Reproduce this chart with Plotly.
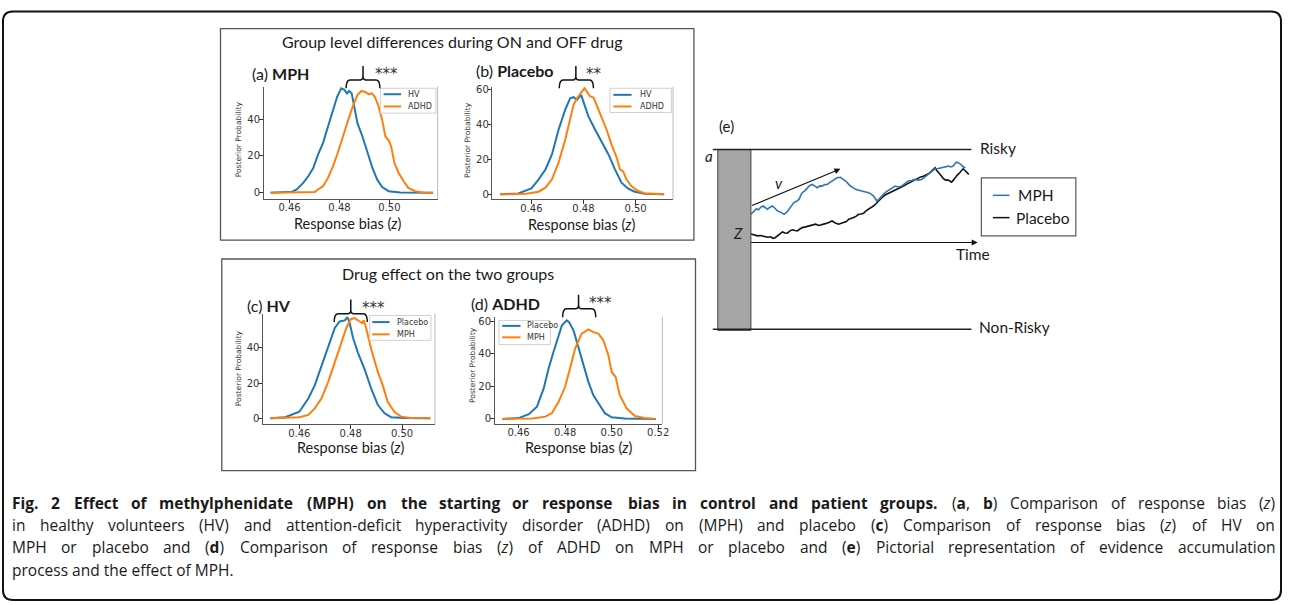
import plotly.graph_objects as go

# ---- data ---------------------------------------------------------------
# (a) MPH: HV vs ADHD posterior of response bias z
panel_a_hv_z = [0.4524, 0.4580, 0.4610, 0.4629, 0.4655, 0.4675, 0.4695, 0.4714, 0.4734, 0.4754,
                0.4774, 0.4791, 0.4807, 0.4820, 0.4830, 0.4839, 0.4849, 0.4859, 0.4872, 0.4892,
                0.4912, 0.4932, 0.4951, 0.4971, 0.4997, 0.5043, 0.5175]
panel_a_hv_p = [0.0, 0.2, 0.6, 1.8, 5.4, 9.0, 13.5, 20.7, 27.0, 36.0,
                45.0, 52.3, 56.8, 55.9, 54.0, 55.3, 54.0, 47.7, 37.8, 30.6,
                21.6, 13.5, 7.2, 3.1, 0.9, 0.2, 0.0]
panel_a_adhd_z = [0.4524, 0.4650, 0.4701, 0.4714, 0.4734, 0.4754, 0.4774, 0.4793, 0.4813, 0.4833,
                  0.4853, 0.4872, 0.4888, 0.4905, 0.4918, 0.4929, 0.4941, 0.4955, 0.4971, 0.4984,
                  0.4997, 0.5007, 0.5020, 0.5037, 0.5057, 0.5076, 0.5103, 0.5136, 0.5175]
panel_a_adhd_p = [0.0, 0.1, 0.5, 1.8, 3.6, 8.1, 14.4, 21.6, 30.6, 38.7,
                  46.8, 53.2, 55.3, 54.6, 53.5, 54.0, 52.3, 47.7, 39.6, 30.6,
                  28.5, 25.2, 16.2, 10.8, 6.3, 2.7, 0.9, 0.2, 0.0]

# (b) Placebo: HV vs ADHD
panel_b_hv_z = [0.4480, 0.4550, 0.4600, 0.4628, 0.4654, 0.4679, 0.4704, 0.4730, 0.4749, 0.4762,
                0.4775, 0.4791, 0.4804, 0.4819, 0.4845, 0.4870, 0.4896, 0.4921, 0.4946, 0.4972,
                0.4997, 0.5035, 0.5110]
panel_b_hv_p = [0.0, 0.5, 3.4, 8.6, 14.3, 22.9, 37.0, 48.6, 55.2, 55.8,
                54.3, 57.1, 51.4, 44.8, 37.1, 30.5, 22.9, 14.3, 6.7, 3.2,
                1.5, 0.4, 0.0]
panel_b_adhd_z = [0.4480, 0.4580, 0.4628, 0.4654, 0.4679, 0.4704, 0.4730, 0.4749, 0.4762, 0.4775,
                  0.4791, 0.4804, 0.4813, 0.4826, 0.4839, 0.4851, 0.4870, 0.4889, 0.4908, 0.4928,
                  0.4940, 0.4953, 0.4965, 0.4984, 0.5010, 0.5035, 0.5110]
panel_b_adhd_p = [0.0, 0.3, 1.5, 3.8, 8.6, 18.1, 31.4, 43.8, 51.4, 55.2,
                  58.1, 61.0, 59.0, 56.2, 55.6, 51.4, 44.8, 37.1, 28.6, 21.0,
                  14.3, 13.0, 8.6, 4.8, 1.9, 0.6, 0.0]

# (c) HV: Placebo vs MPH
panel_c_placebo_z = [0.4487, 0.4545, 0.4600, 0.4635, 0.4660, 0.4686, 0.4712, 0.4738, 0.4757, 0.4777,
                     0.4787, 0.4796, 0.4809, 0.4828, 0.4854, 0.4880, 0.4906, 0.4932, 0.4957, 0.5010,
                     0.5110]
panel_c_placebo_p = [0.0, 0.6, 3.7, 11.2, 18.7, 29.9, 41.1, 51.4, 55.1, 55.7,
                     57.6, 54.2, 45.8, 37.4, 28.0, 16.8, 7.5, 2.8, 0.6, 0.1,
                     0.0]
panel_c_mph_z = [0.4487, 0.4545, 0.4600, 0.4635, 0.4660, 0.4686, 0.4712, 0.4738, 0.4764, 0.4783,
                 0.4800, 0.4815, 0.4835, 0.4844, 0.4851, 0.4860, 0.4880, 0.4906, 0.4925, 0.4944,
                 0.4970, 0.4996, 0.5034, 0.5110]
panel_c_mph_p = [0.0, 0.2, 0.6, 1.9, 5.6, 11.2, 20.6, 31.8, 43.0, 51.4,
                 56.4, 57.0, 55.1, 54.2, 55.7, 51.4, 39.3, 26.2, 18.7, 9.3,
                 3.7, 0.9, 0.2, 0.0]

# (d) ADHD: Placebo vs MPH
panel_d_placebo_z = [0.4529, 0.4600, 0.4644, 0.4679, 0.4708, 0.4729, 0.4750, 0.4769, 0.4786, 0.4807,
                     0.4817, 0.4836, 0.4857, 0.4879, 0.4900, 0.4921, 0.4943, 0.4971, 0.5000, 0.5056,
                     0.5190]
panel_d_placebo_p = [0.0, 0.5, 2.9, 7.5, 18.7, 30.9, 41.0, 49.2, 57.3, 60.4,
                     59.3, 54.3, 44.1, 32.9, 22.7, 14.6, 9.6, 3.5, 1.0, 0.2,
                     0.0]
panel_d_mph_z = [0.4529, 0.4660, 0.4715, 0.4743, 0.4772, 0.4800, 0.4821, 0.4843, 0.4871, 0.4900,
                 0.4921, 0.4943, 0.4964, 0.4986, 0.5000, 0.5017, 0.5035, 0.5064, 0.5100, 0.5142,
                 0.5188]
panel_d_mph_p = [0.0, 0.2, 1.4, 3.5, 10.5, 19.7, 30.9, 43.1, 52.3, 54.9,
                 53.2, 52.3, 48.2, 39.0, 28.8, 25.8, 14.6, 6.5, 1.8, 0.6,
                 0.0]

# (e) evidence accumulation sketch: time (0..1) and evidence (0 = Non-Risky, 1 = Risky)
e_time_mph = [0.000, 0.015, 0.025, 0.035, 0.045, 0.055, 0.065, 0.075, 0.085, 0.098,
              0.110, 0.120, 0.135, 0.150, 0.162, 0.173, 0.185, 0.195, 0.207, 0.218,
              0.226, 0.233, 0.245, 0.256, 0.267, 0.278, 0.290, 0.301, 0.312, 0.323,
              0.335, 0.346, 0.357, 0.368, 0.380, 0.391, 0.406, 0.418, 0.429, 0.440,
              0.451, 0.462, 0.474, 0.489, 0.504, 0.519, 0.534, 0.545, 0.556, 0.564,
              0.571, 0.579, 0.586, 0.598, 0.609, 0.620, 0.632, 0.643, 0.654, 0.669,
              0.684, 0.699, 0.714, 0.729, 0.744, 0.759, 0.774, 0.790, 0.805, 0.820,
              0.835, 0.850, 0.865, 0.880, 0.895, 0.906, 0.917, 0.925, 0.932, 0.940,
              0.947, 0.955, 0.962, 0.968, 0.973]
e_evidence_mph = [0.640, 0.662, 0.671, 0.665, 0.680, 0.686, 0.675, 0.668, 0.678, 0.686,
                  0.672, 0.659, 0.652, 0.640, 0.650, 0.668, 0.690, 0.705, 0.712, 0.723,
                  0.745, 0.760, 0.772, 0.788, 0.800, 0.806, 0.795, 0.788, 0.798, 0.797,
                  0.805, 0.806, 0.816, 0.825, 0.832, 0.843, 0.846, 0.836, 0.825, 0.812,
                  0.797, 0.790, 0.779, 0.774, 0.769, 0.764, 0.760, 0.752, 0.742, 0.728,
                  0.714, 0.722, 0.732, 0.748, 0.760, 0.770, 0.779, 0.790, 0.797, 0.792,
                  0.797, 0.812, 0.825, 0.828, 0.834, 0.830, 0.834, 0.848, 0.862, 0.880,
                  0.893, 0.895, 0.899, 0.905, 0.908, 0.903, 0.908, 0.920, 0.930, 0.927,
                  0.923, 0.915, 0.904, 0.903, 0.899]
e_time_placebo = [0.000, 0.015, 0.030, 0.045, 0.060, 0.075, 0.090, 0.100, 0.110, 0.120,
                  0.132, 0.143, 0.155, 0.165, 0.177, 0.188, 0.200, 0.211, 0.222, 0.233,
                  0.248, 0.263, 0.278, 0.293, 0.308, 0.323, 0.338, 0.353, 0.368, 0.383,
                  0.398, 0.410, 0.421, 0.433, 0.444, 0.455, 0.466, 0.478, 0.489, 0.500,
                  0.511, 0.523, 0.534, 0.545, 0.556, 0.568, 0.579, 0.590, 0.602, 0.613,
                  0.624, 0.635, 0.647, 0.658, 0.669, 0.680, 0.692, 0.703, 0.714, 0.725,
                  0.737, 0.748, 0.759, 0.770, 0.782, 0.793, 0.805, 0.816, 0.827, 0.835,
                  0.842, 0.850, 0.857, 0.865, 0.872, 0.883, 0.895, 0.903, 0.910, 0.918,
                  0.925, 0.936, 0.947, 0.955, 0.962, 0.970, 0.977, 0.983, 0.988]
e_evidence_placebo = [0.530, 0.526, 0.520, 0.522, 0.517, 0.512, 0.515, 0.506, 0.510, 0.520,
                      0.532, 0.542, 0.536, 0.535, 0.548, 0.554, 0.550, 0.548, 0.558, 0.566,
                      0.570, 0.576, 0.582, 0.585, 0.578, 0.581, 0.588, 0.594, 0.603, 0.592,
                      0.585, 0.590, 0.594, 0.600, 0.613, 0.616, 0.622, 0.630, 0.640, 0.642,
                      0.646, 0.660, 0.668, 0.675, 0.686, 0.700, 0.714, 0.728, 0.742, 0.750,
                      0.756, 0.762, 0.769, 0.775, 0.782, 0.790, 0.797, 0.805, 0.812, 0.820,
                      0.830, 0.836, 0.843, 0.848, 0.852, 0.858, 0.865, 0.876, 0.889, 0.899,
                      0.885, 0.871, 0.860, 0.852, 0.840, 0.830, 0.830, 0.822, 0.819, 0.830,
                      0.843, 0.858, 0.871, 0.882, 0.893, 0.885, 0.875, 0.868, 0.862]

ticks_z_wide = [0.46, 0.48, 0.50, 0.52]
ticks_z_narrow = [0.46, 0.48, 0.50]
ticks_p_40 = [0, 20, 40]
ticks_p_60 = [0, 20, 40, 60]

caption_bold = "Fig. 2 Effect of methylphenidate (MPH) on the starting or response bias in control and patient groups."
caption_lines = [
    [f"<b>{w}</b>" for w in caption_bold.split()]
    + "(<b>a</b>, <b>b</b>) Comparison of response bias (<i>z</i>)".split(),
    ("in healthy volunteers (HV) and attention-deficit hyperactivity disorder (ADHD) on (MPH) "
     "and placebo (<b>c</b>) Comparison of response bias (<i>z</i>) of HV on").split(),
    ("MPH or placebo and (<b>d</b>) Comparison of response bias (<i>z</i>) of ADHD on MPH or "
     "placebo and (<b>e</b>) Pictorial representation of evidence accumulation").split(),
    "process and the effect of MPH.",
]

# ---- helpers: page pixels -> paper fractions ---------------------------
W, H = 1290, 605
BLUE = "#1f77b4"
ORANGE = "#ff7f0e"
TITLE_FONT = "Lato"
MPL_FONT = "DejaVu Sans"
CAP_FONT = "Open Sans"
CAP_SIZE = 15.5

# rough Open Sans advance widths (em) used to justify the caption lines
CHAR_W = {' ': 0.26, 'a': 0.556, 'b': 0.613, 'c': 0.48, 'd': 0.613, 'e': 0.561, 'f': 0.339,
          'g': 0.548, 'h': 0.614, 'i': 0.253, 'j': 0.253, 'k': 0.525, 'l': 0.253, 'm': 0.93,
          'n': 0.614, 'o': 0.604, 'p': 0.613, 'q': 0.613, 'r': 0.408, 's': 0.477, 't': 0.353,
          'u': 0.614, 'v': 0.501, 'w': 0.778, 'x': 0.524, 'y': 0.502, 'z': 0.477,
          'A': 0.633, 'B': 0.648, 'C': 0.631, 'D': 0.729, 'E': 0.556, 'F': 0.516, 'G': 0.728,
          'H': 0.738, 'I': 0.279, 'M': 0.903, 'P': 0.601, 'R': 0.631, 'V': 0.595,
          '(': 0.295, ')': 0.295, '.': 0.266, ',': 0.245, '-': 0.322, '2': 0.572}


def fx(x):
    return x / W


def fy(y):
    return 1 - y / H


def word_width(markup, size):
    w, bold, i = 0.0, False, 0
    while i < len(markup):
        for tag, state in (("<b>", True), ("</b>", False), ("<i>", None), ("</i>", None)):
            if markup.startswith(tag, i):
                if state is not None:
                    bold = state
                i += len(tag)
                break
        else:
            w += CHAR_W.get(markup[i], 0.55) * (1.1 if bold else 1.0)
            i += 1
    return w * size


fig = go.Figure()
shapes = []
annotations = []
layout_axes = {}


def add_axes(n, left, right, bottom, top, xr, yr, xt, yt):
    tick_font = dict(family=MPL_FONT, size=10, color="#333")
    common = dict(ticks="outside", ticklen=3.5, tickwidth=0.8, tickcolor="#333",
                  showline=True, linecolor="#555", linewidth=1, showgrid=False,
                  zeroline=False, tickfont=tick_font, fixedrange=True)
    layout_axes["xaxis" + n] = dict(domain=[fx(left), fx(right)], range=xr, anchor="y" + n,
                                    tickvals=xt, tickformat=".2f", ticklabelstandoff=-4, **common)
    layout_axes["yaxis" + n] = dict(domain=[fy(bottom), fy(top)], range=yr, anchor="x" + n,
                                    tickvals=yt, ticklabelstandoff=-3, **common)
    # faint right spine
    shapes.append(dict(type="line", xref="paper", yref="paper", x0=fx(right), x1=fx(right),
                       y0=fy(bottom), y1=fy(top), line=dict(color="#bbbbbb", width=1)))


def add_curve(n, z, p, color):
    fig.add_trace(go.Scatter(x=z, y=p, mode="lines", line=dict(color=color, width=2),
                             xaxis="x" + n, yaxis="y" + n, showlegend=False, hoverinfo="skip"))


def text(x, y, s, size, family=TITLE_FONT, color="#1a1a1a", xanchor="center", angle=0):
    annotations.append(dict(x=fx(x), y=fy(y), xref="paper", yref="paper", text=s,
                            showarrow=False, xanchor=xanchor, yanchor="middle",
                            textangle=angle, font=dict(family=family, size=size, color=color)))


def small_legend(x0, x1, y0, y1, s0, s1, tx, entries):
    shapes.append(dict(type="rect", xref="paper", yref="paper", x0=fx(x0), x1=fx(x1),
                       y0=fy(y1), y1=fy(y0), fillcolor="rgba(255,255,255,0.85)",
                       line=dict(color="#d0d0d0", width=1), layer="above"))
    for label, color, y in entries:
        shapes.append(dict(type="line", xref="paper", yref="paper", x0=fx(s0), x1=fx(s1),
                           y0=fy(y), y1=fy(y), line=dict(color=color, width=2), layer="above"))
        text(tx, y, label, 8, family=MPL_FONT, color="#333", xanchor="left")


def brace(x1, x2, yh, yb, xc, ytop):
    def P(x, y):
        return f"{fx(x):.5f},{fy(y):.5f}"
    path = (f"M{P(x1, yb)} Q{P(x1, yh)} {P(x1 + 4, yh)} L{P(xc - 3, yh)} "
            f"Q{P(xc, yh)} {P(xc, yh - 4)} L{P(xc, ytop)} M{P(xc, yh - 4)} "
            f"Q{P(xc, yh)} {P(xc + 3, yh)} L{P(x2 - 4, yh)} Q{P(x2, yh)} {P(x2, yb)}")
    shapes.append(dict(type="path", xref="paper", yref="paper", path=path,
                       line=dict(color="#111", width=1.5)))


# ---- panels (a)-(d) ------------------------------------------------------
add_axes("", 265, 440, 197.7, 85, [0.4496, 0.5193], [-3.2, 57.7], ticks_z_wide, ticks_p_40)
add_axes("2", 495, 676.7, 198.3, 85, [0.445, 0.5144], [-2.86, 61.9], ticks_z_narrow, ticks_p_60)
add_axes("3", 264.3, 437.3, 424.3, 313.3, [0.4458, 0.5128], [-3.4, 59.5], ticks_z_narrow, ticks_p_40)
add_axes("4", 497.3, 666, 424, 316.7, [0.4497, 0.5218], [-3.05, 62.4], ticks_z_wide, ticks_p_60)

add_curve("", panel_a_hv_z, panel_a_hv_p, BLUE)
add_curve("", panel_a_adhd_z, panel_a_adhd_p, ORANGE)
add_curve("2", panel_b_hv_z, panel_b_hv_p, BLUE)
add_curve("2", panel_b_adhd_z, panel_b_adhd_p, ORANGE)
add_curve("3", panel_c_placebo_z, panel_c_placebo_p, BLUE)
add_curve("3", panel_c_mph_z, panel_c_mph_p, ORANGE)
add_curve("4", panel_d_placebo_z, panel_d_placebo_p, BLUE)
add_curve("4", panel_d_mph_z, panel_d_mph_p, ORANGE)

small_legend(382.7, 438.3, 86.7, 111.7, 385.7, 403.3, 408.3,
             [("HV", BLUE, 92.7), ("ADHD", ORANGE, 105)])
small_legend(613.3, 675, 86.7, 111, 616.7, 635, 641.7,
             [("HV", BLUE, 93.3), ("ADHD", ORANGE, 105)])
small_legend(371.7, 433.3, 315, 340, 374.3, 391.7, 396.7,
             [("Placebo", BLUE, 321.7), ("MPH", ORANGE, 334)])
small_legend(501.7, 553.3, 320, 344.3, 505, 523.3, 528.3,
             [("Placebo", BLUE, 325.5), ("MPH", ORANGE, 337)])

brace(348, 382, 78.3, 86.7, 365, 64.3)
brace(562.3, 596.7, 78.3, 86.7, 579, 64.3)
brace(336, 369.3, 313.3, 321.7, 352.7, 299)
brace(565.7, 599, 308.3, 316.7, 581.7, 294.3)
for sx, sy, stars in [(388.3, 72, "***"), (597, 72, "**"), (375.3, 308, "***"),
                      (604.2, 302, "***")]:
    text(sx, sy, stars, 15, family=MPL_FONT, color="#333")

text(251.7, 71.7, "(a) <b>MPH</b>", 16, xanchor="left")
text(476.7, 69, "(b) <b>Placebo</b>", 16, xanchor="left")
text(246, 305, "(c) <b>HV</b>", 16, xanchor="left")
text(471.7, 302.7, "(d) <b>ADHD</b>", 16, xanchor="left")

for cx, cy in [(349.7, 223), (585, 224), (352, 447.7), (581.7, 447.7)]:
    text(cx, cy, "Response bias (<i>z</i>)", 14.5)
for cx, cy in [(240, 138.3), (470, 138.3), (240, 368.3), (474.3, 365)]:
    text(cx, cy, "Posterior Probability", 7.5, family=MPL_FONT, color="#333", angle=-90)

text(455, 40, "Group level differences during ON and OFF drug", 16)
text(450.5, 273.3, "Drug effect on the two groups", 16)

# panel boxes
for x0, y0, x1, y1 in [(221.7, 26.7, 697.7, 239.3), (223, 258.3, 699.3, 471)]:
    shapes.append(dict(type="rect", xref="paper", yref="paper", x0=fx(x0), x1=fx(x1),
                       y0=fy(y1), y1=fy(y0), line=dict(color="#555", width=1.3)))

# ---- panel (e) ------------------------------------------------------------
layout_axes["xaxis5"] = dict(domain=[fx(755), fx(976.7)], range=[0, 1], anchor="y5",
                             visible=False, fixedrange=True)
layout_axes["yaxis5"] = dict(domain=[fy(329), fy(148.3)], range=[0, 1], anchor="x5",
                             visible=False, fixedrange=True)
fig.add_trace(go.Scatter(x=e_time_placebo, y=e_evidence_placebo, mode="lines",
                         line=dict(color="#111", width=1.6), xaxis="x5", yaxis="y5",
                         showlegend=False, hoverinfo="skip"))
fig.add_trace(go.Scatter(x=e_time_mph, y=e_evidence_mph, mode="lines",
                         line=dict(color="#2e75b6", width=1.6), xaxis="x5", yaxis="y5",
                         showlegend=False, hoverinfo="skip"))

shapes.append(dict(type="rect", xref="paper", yref="paper", x0=fx(721.7), x1=fx(755),
                   y0=fy(330), y1=fy(148.3), fillcolor="#a6a6a6",
                   line=dict(color="#404040", width=1)))
for yy in (148.3, 329):
    shapes.append(dict(type="line", xref="paper", yref="paper", x0=fx(716.7), x1=fx(976.7),
                       y0=fy(yy), y1=fy(yy), line=dict(color="#222", width=1.5)))

annotations.append(dict(x=fx(983), y=fy(241.7), xref="paper", yref="paper", text="",
                        showarrow=True, ax=-228, ay=0, arrowhead=2, arrowsize=1,
                        arrowwidth=1.2, arrowcolor="#111"))
annotations.append(dict(x=fx(845), y=fy(167.7), xref="paper", yref="paper", text="",
                        showarrow=True, ax=-90, ay=37.3, arrowhead=2, arrowsize=1,
                        arrowwidth=1.2, arrowcolor="#111"))

text(730, 125, "(e)", 15)
text(712.7, 155, "<i>a</i>", 15)
text(741.7, 231.7, "<i>Z</i>", 15)
text(783, 182, "<i>v</i>", 15)
text(983, 146.7, "Risky", 15.5, xanchor="left")
text(982, 326.7, "Non-Risky", 15.5, xanchor="left")
text(978, 253, "Time", 15.5)

shapes.append(dict(type="rect", xref="paper", yref="paper", x0=fx(986.7), x1=fx(1081.7),
                   y0=fy(235), y1=fy(176.7), line=dict(color="#595959", width=1.2)))
shapes.append(dict(type="line", xref="paper", yref="paper", x0=fx(998.3), x1=fx(1015),
                   y0=fy(194.3), y1=fy(194.3), line=dict(color="#2e75b6", width=1.5)))
shapes.append(dict(type="line", xref="paper", yref="paper", x0=fx(998.3), x1=fx(1015),
                   y0=fy(216.7), y1=fy(216.7), line=dict(color="#111", width=1.5)))
text(1021.7, 194.3, "MPH", 15.5, xanchor="left")
text(1020, 216.7, "Placebo", 15.5, xanchor="left")

# ---- caption: lines 1-3 justified word by word, last line left aligned ----
CAP_LEFT, CAP_RIGHT = 10, 1280
for line, y in zip(caption_lines, [503, 525.5, 548, 570.5]):
    if isinstance(line, str):
        text(CAP_LEFT, y, line, CAP_SIZE, family=CAP_FONT, xanchor="left")
        continue
    widths = [word_width(w, CAP_SIZE) for w in line]
    gap = (CAP_RIGHT - CAP_LEFT - sum(widths)) / (len(line) - 1)
    x = CAP_LEFT
    for w, ww in zip(line, widths):
        text(x, y, w, CAP_SIZE, family=CAP_FONT, xanchor="left")
        x += ww + gap

# outer rounded frame
x0, y0, x1, y1, r = 3, 9.5, 1288, 601, 10
frame = (f"M{fx(x0 + r)},{fy(y0)} L{fx(x1 - r)},{fy(y0)} Q{fx(x1)},{fy(y0)} {fx(x1)},{fy(y0 + r)} "
         f"L{fx(x1)},{fy(y1 - r)} Q{fx(x1)},{fy(y1)} {fx(x1 - r)},{fy(y1)} "
         f"L{fx(x0 + r)},{fy(y1)} Q{fx(x0)},{fy(y1)} {fx(x0)},{fy(y1 - r)} "
         f"L{fx(x0)},{fy(y0 + r)} Q{fx(x0)},{fy(y0)} {fx(x0 + r)},{fy(y0)} Z")
shapes.append(dict(type="path", xref="paper", yref="paper", path=frame,
                   line=dict(color="#111", width=2)))

fig.update_layout(width=W, height=H, margin=dict(l=0, r=0, t=0, b=0),
                  paper_bgcolor="white", plot_bgcolor="rgba(0,0,0,0)",
                  showlegend=False, shapes=shapes, annotations=annotations,
                  **layout_axes)

fig.write_html("out.html", config={"displayModeBar": False},
               post_script=("document.body.style.margin='0px';"
                            "document.body.style.overflow='hidden';"
                            "document.documentElement.style.overflow='hidden';"))
